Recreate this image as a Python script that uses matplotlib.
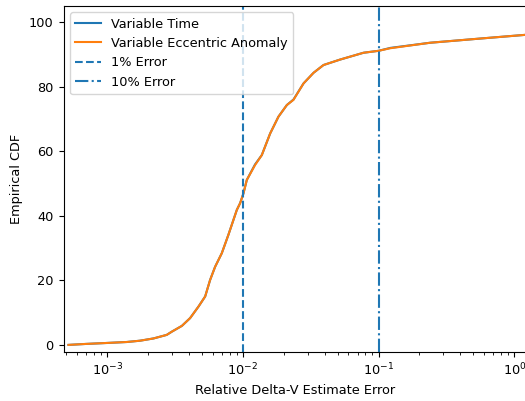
import matplotlib
matplotlib.use("Agg")
import matplotlib.pyplot as plt

# relative error values (x) and empirical CDF in percent (y)
err_time = [5.2e-4, 7.0e-4, 1.0e-3, 1.4e-3, 1.75e-3, 2.2e-3, 2.75e-3, 3.0e-3,
            3.56e-3, 4.09e-3, 4.72e-3, 5.28e-3, 5.74e-3, 6.25e-3, 7.0e-3,
            7.83e-3, 9.03e-3, 9.55e-3, 1.01e-2, 1.07e-2, 1.23e-2, 1.38e-2,
            1.59e-2, 1.83e-2, 2.11e-2, 2.36e-2, 2.80e-2, 3.32e-2, 3.93e-2,
            5.22e-2, 7.75e-2, 0.1, 0.122, 0.24, 0.562, 1.25]
cdf_time = [0.0, 0.3, 0.6, 0.9, 1.3, 2.0, 3.1, 4.1,
            5.9, 8.3, 11.9, 15.0, 20.1, 24.2, 28.4,
            34.1, 41.8, 43.9, 46.9, 51.1, 55.9, 58.8,
            65.5, 70.7, 74.3, 76.0, 81.0, 84.3, 86.7,
            88.4, 90.5, 91.1, 92.0, 93.6, 94.9, 96.1]

err_ecc = [5.2e-4, 7.0e-4, 1.0e-3, 1.4e-3, 1.75e-3, 2.2e-3, 2.75e-3, 3.0e-3,
           3.56e-3, 4.09e-3, 4.72e-3, 5.28e-3, 5.74e-3, 6.25e-3, 7.0e-3,
           7.83e-3, 9.03e-3, 9.55e-3, 1.01e-2, 1.07e-2, 1.23e-2, 1.38e-2,
           1.59e-2, 1.83e-2, 2.11e-2, 2.36e-2, 2.80e-2, 3.32e-2, 3.93e-2,
           5.22e-2, 7.75e-2, 0.1, 0.122, 0.24, 0.562, 1.25]
cdf_ecc = [0.0, 0.3, 0.6, 0.9, 1.3, 2.0, 3.1, 4.1,
           5.9, 8.3, 11.9, 15.0, 20.1, 24.2, 28.4,
           34.1, 41.8, 43.9, 46.9, 51.1, 55.7, 58.8,
           65.5, 70.7, 74.3, 75.9, 81.0, 84.3, 86.7,
           88.4, 90.5, 91.1, 91.9, 93.6, 94.9, 96.1]

err_1pct = 0.01
err_10pct = 0.1


def main():
    plt.rcParams['font.size'] = 9.3
    fig = plt.figure(figsize=(5.25, 4.01), dpi=100)
    ax = fig.add_axes([0.121, 0.1222, 0.882, 0.863])

    ax.plot(err_time, cdf_time, label="Variable Time")
    ax.plot(err_ecc, cdf_ecc, label="Variable Eccentric Anomaly")
    ax.axvline(err_1pct, linestyle="--", label="1% Error")
    ax.axvline(err_10pct, linestyle="-.", label="10% Error")

    ax.set_xscale("log")
    ax.set_xlim(4.78e-4, 1.23)
    ax.set_ylim(-2.2, 105)
    ax.set_xlabel("Relative Delta-V Estimate Error")
    ax.set_ylabel("Empirical CDF")
    ax.legend(loc="upper left")

    fig.savefig("out.png", dpi=100)


if __name__ == '__main__':
    main()
